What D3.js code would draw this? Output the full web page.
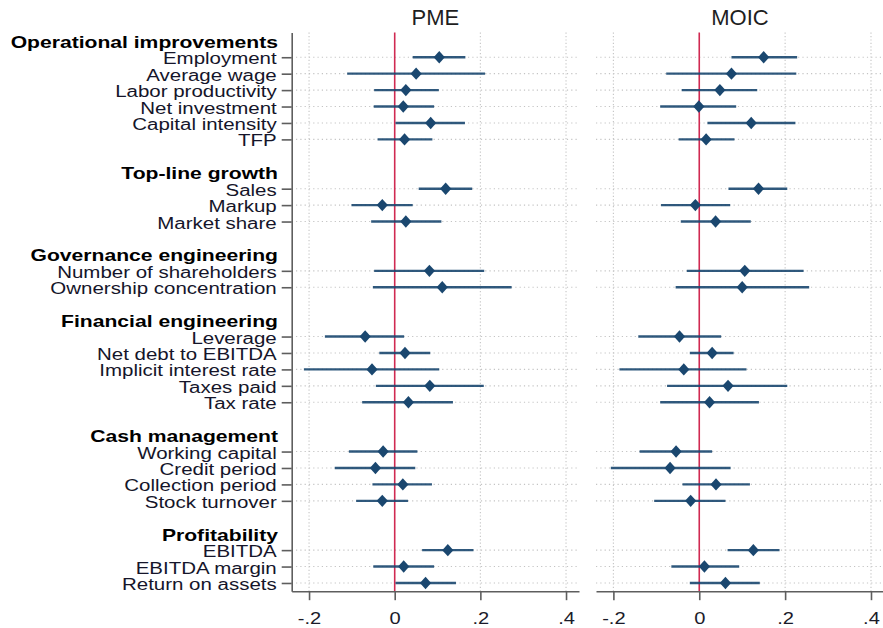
<!DOCTYPE html>
<html>
<head>
<meta charset="utf-8">
<script src="https://cdn.jsdelivr.net/npm/d3@7"></script>
<style>
  body { margin: 0; background: #fff; }
  svg { display: block; font-family: "Liberation Sans", Arial, sans-serif; }
</style>
</head>
<body>
<svg id="chart" width="883" height="628"></svg>
<script>
// Outcome groups and how many variables each one holds
const groups = ["Operational improvements", "Top-line growth", "Governance engineering",
                "Financial engineering", "Cash management", "Profitability"];
const groupSizes = [6, 3, 2, 5, 4, 3];

const variables = [
  "Employment", "Average wage", "Labor productivity", "Net investment", "Capital intensity", "TFP",
  "Sales", "Markup", "Market share",
  "Number of shareholders", "Ownership concentration",
  "Leverage", "Net debt to EBITDA", "Implicit interest rate", "Taxes paid", "Tax rate",
  "Working capital", "Credit period", "Collection period", "Stock turnover",
  "EBITDA", "EBITDA margin", "Return on assets"
];

// PME: point estimates with lower / upper confidence bounds
const pmeEst = [0.104, 0.050, 0.026, 0.020, 0.084, 0.023,
                0.119, -0.029, 0.026,
                0.081, 0.111,
                -0.069, 0.024, -0.053, 0.082, 0.032,
                -0.027, -0.045, 0.019, -0.029,
                0.124, 0.021, 0.072];
const pmeLo  = [0.042, -0.111, -0.048, -0.049, 0.002, -0.040,
                0.056, -0.101, -0.055,
                -0.048, -0.051,
                -0.163, -0.036, -0.212, -0.044, -0.076,
                -0.107, -0.140, -0.052, -0.090,
                0.064, -0.050, 0.002];
const pmeHi  = [0.165, 0.211, 0.103, 0.092, 0.164, 0.088,
                0.181, 0.042, 0.109,
                0.209, 0.273,
                0.022, 0.083, 0.104, 0.208, 0.136,
                0.053, 0.048, 0.087, 0.031,
                0.184, 0.092, 0.143];

// MOIC: point estimates with lower / upper confidence bounds
const moicEst = [0.150, 0.075, 0.048, -0.001, 0.121, 0.016,
                 0.138, -0.009, 0.038,
                 0.106, 0.100,
                 -0.046, 0.030, -0.036, 0.067, 0.024,
                 -0.054, -0.068, 0.039, -0.020,
                 0.126, 0.012, 0.061];
const moicLo  = [0.075, -0.077, -0.041, -0.091, 0.019, -0.048,
                 0.068, -0.089, -0.043,
                 -0.029, -0.055,
                 -0.142, -0.022, -0.186, -0.075, -0.091,
                 -0.139, -0.206, -0.039, -0.105,
                 0.066, -0.065, -0.022];
const moicHi  = [0.228, 0.226, 0.135, 0.086, 0.224, 0.082,
                 0.205, 0.072, 0.120,
                 0.243, 0.256,
                 0.051, 0.080, 0.110, 0.205, 0.139,
                 0.030, 0.073, 0.118, 0.061,
                 0.187, 0.093, 0.141];

const panelTitles = ["PME", "MOIC"];
const xTicks = [-0.2, 0, 0.2, 0.4];
const xTickLabels = ["-.2", "0", ".2", ".4"];

// ---- row layout: one slot per header, one per variable, one blank between groups
const headerRows = [];
const varRows = [];
{
  let start = -1;
  groupSizes.forEach((n, g) => {
    headerRows.push({ label: groups[g], idx: start });
    for (let k = 1; k <= n; k++) varRows.push(start + k);
    start += n + 2;
  });
}

const svg = d3.select("#chart");
const y = d3.scaleLinear().domain([-1.5, 32.5]).range([32.6, 591.2]);
const yTop = y.range()[0], yBot = y.range()[1];

const panels = [
  { title: panelTitles[0], est: pmeEst, lo: pmeLo, hi: pmeHi, range: [291.7, 579] },
  { title: panelTitles[1], est: moicEst, lo: moicLo, hi: moicHi, range: [596, 884] }
];

const navy = "#1a476f";
const gridCol = "#c4c4c4";

panels.forEach((p, pi) => {
  const x = d3.scaleLinear().domain([-0.2405, 0.4303]).range(p.range);
  const g = svg.append("g");

  // horizontal dotted guides at each variable row
  g.selectAll("line.hgrid").data(varRows).join("line")
    .attr("class", "hgrid")
    .attr("x1", p.range[0]).attr("x2", p.range[1])
    .attr("y1", d => y(d)).attr("y2", d => y(d))
    .attr("stroke", gridCol).attr("stroke-width", 1.1)
    .attr("stroke-dasharray", "1.2,3.1");

  // vertical dotted guides at the non-zero ticks
  g.selectAll("line.vgrid").data(xTicks.filter(t => t !== 0)).join("line")
    .attr("class", "vgrid")
    .attr("x1", d => x(d)).attr("x2", d => x(d))
    .attr("y1", yTop).attr("y2", yBot)
    .attr("stroke", gridCol).attr("stroke-width", 1.1)
    .attr("stroke-dasharray", "1.2,2.2");

  // reference line at zero
  g.append("line")
    .attr("x1", x(0)).attr("x2", x(0))
    .attr("y1", yTop).attr("y2", yBot)
    .attr("stroke", "#d02a52").attr("stroke-width", 1.6);

  // confidence intervals
  g.selectAll("line.ci").data(p.est.map((e, i) => i)).join("line")
    .attr("class", "ci")
    .attr("x1", i => x(p.lo[i])).attr("x2", i => x(p.hi[i]))
    .attr("y1", i => y(varRows[i])).attr("y2", i => y(varRows[i]))
    .attr("stroke", navy).attr("stroke-width", 2.4).attr("stroke-opacity", 0.9);

  // point estimates as diamonds
  const dw = 5.6, dh = 6.2;
  g.selectAll("path.pt").data(p.est.map((e, i) => i)).join("path")
    .attr("class", "pt")
    .attr("transform", i => `translate(${x(p.est[i])},${y(varRows[i])})`)
    .attr("d", `M0,${-dh}L${dw},0L0,${dh}L${-dw},0Z`)
    .attr("fill", navy);

  // bottom axis
  const ax = g.append("g")
    .attr("transform", `translate(0,${yBot})`)
    .call(d3.axisBottom(x).tickValues(xTicks)
      .tickFormat((d, i) => xTickLabels[i]).tickSize(9).tickSizeOuter(0));
  ax.select(".domain").attr("stroke", "#5e5e5e").attr("stroke-width", 1.6);
  ax.selectAll(".tick line").attr("stroke", "#5e5e5e").attr("stroke-width", 1.6);
  ax.selectAll(".tick text")
    .attr("y", 32.8).attr("dy", null)
    .attr("transform", "scale(1.22,1)")
    .attr("fill", "#1b1b2a")
    .style("font-size", "16.5px")
    .style("font-family", "'Liberation Sans', Arial, sans-serif");

  // panel title
  svg.append("text")
    .attr("x", (p.range[0] + p.range[1]) / 2).attr("y", 25)
    .attr("text-anchor", "middle")
    .attr("fill", "#1e1e1e")
    .style("font-size", "22px")
    .text(p.title);

  // left axis with row ticks on the first panel only
  if (pi === 0) {
    const ay = svg.append("g")
      .attr("transform", `translate(${p.range[0]},0)`)
      .call(d3.axisLeft(y).tickValues(varRows).tickFormat("").tickSize(10).tickSizeOuter(0));
    ay.select(".domain").attr("stroke", "#5e5e5e").attr("stroke-width", 1.6);
    ay.selectAll(".tick line").attr("stroke", "#5e5e5e").attr("stroke-width", 1.6);
  }
});

// row labels
svg.append("g").selectAll("text").data(variables).join("text")
  .attr("transform", (d, i) => `translate(276.7,${y(varRows[i]) + 7}) scale(1.28,1)`)
  .attr("text-anchor", "end")
  .attr("fill", "#15152a")
  .style("font-size", "16px")
  .text(d => d);

// group headers
svg.append("g").selectAll("text").data(headerRows).join("text")
  .attr("transform", d => `translate(278,${y(d.idx) + 7}) scale(1.32,1)`)
  .attr("text-anchor", "end")
  .attr("fill", "#000")
  .style("font-size", "16px")
  .style("font-weight", "bold")
  .text(d => d.label);
</script>
</body>
</html>
